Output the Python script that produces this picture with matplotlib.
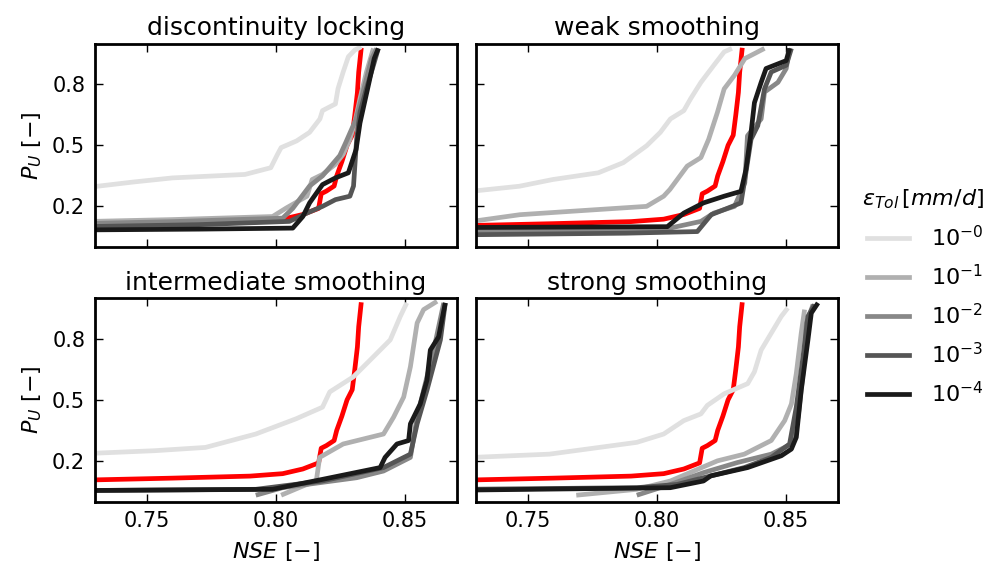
import matplotlib
matplotlib.use("Agg")
import matplotlib.pyplot as plt
from matplotlib.lines import Line2D

# ---------------------------------------------------------------------------
# Data: NSE vs. P_U curves for each smoothing scheme and tolerance
# ---------------------------------------------------------------------------
panel_titles = ["discontinuity locking", "weak smoothing",
                "intermediate smoothing", "strong smoothing"]
tol_labels = [r"$10^{-0}$", r"$10^{-1}$", r"$10^{-2}$", r"$10^{-3}$", r"$10^{-4}$"]
tol_colors = ["#e0e0e0", "#b0b0b0", "#888888", "#555555", "#1a1a1a"]

# reference curve (red), shared by all panels
ref_nse = [0.725, 0.76, 0.79, 0.8026, 0.8104, 0.8165, 0.8175, 0.8195, 0.8225,
           0.8235, 0.8255, 0.8275, 0.8295, 0.8305, 0.8315, 0.832, 0.833]
ref_pu = [0.105, 0.115, 0.125, 0.137, 0.160, 0.190, 0.262, 0.275, 0.300,
          0.350, 0.420, 0.500, 0.550, 0.650, 0.760, 0.860, 0.980]

# discontinuity locking
lock_nse_0 = [0.725, 0.745, 0.76, 0.788, 0.798, 0.8006, 0.802, 0.808, 0.813,
              0.817, 0.818, 0.823, 0.824, 0.826, 0.828, 0.8305, 0.833]
lock_pu_0 = [0.29, 0.32, 0.34, 0.357, 0.39, 0.456, 0.489, 0.522, 0.564,
             0.63, 0.671, 0.704, 0.779, 0.861, 0.936, 0.969, 0.985]
lock_nse_1 = [0.725, 0.76, 0.7987, 0.804, 0.812, 0.814, 0.818, 0.823, 0.826,
              0.8286, 0.8305, 0.8325, 0.835, 0.8377]
lock_pu_1 = [0.125, 0.135, 0.150, 0.192, 0.25, 0.332, 0.357, 0.407, 0.456,
             0.53, 0.613, 0.73, 0.86, 0.977]
lock_nse_2 = [0.725, 0.76, 0.8026, 0.8065, 0.813, 0.818, 0.8247, 0.827, 0.831,
              0.834, 0.837, 0.839]
lock_pu_2 = [0.115, 0.125, 0.142, 0.19, 0.30, 0.35, 0.45, 0.514, 0.63,
             0.778, 0.927, 0.977]
lock_nse_3 = [0.725, 0.77, 0.8052, 0.812, 0.818, 0.823, 0.8286, 0.83, 0.8312,
              0.8325, 0.835, 0.8377, 0.8396]
lock_pu_3 = [0.10, 0.11, 0.126, 0.167, 0.20, 0.233, 0.25, 0.30, 0.53,
             0.663, 0.78, 0.894, 0.977]
lock_nse_4 = [0.725, 0.77, 0.8065, 0.8104, 0.813, 0.818, 0.823, 0.828, 0.831,
              0.8325, 0.834, 0.836, 0.838, 0.8396]
lock_pu_4 = [0.084, 0.088, 0.093, 0.15, 0.217, 0.307, 0.34, 0.365, 0.48,
             0.61, 0.696, 0.81, 0.927, 0.977]

# weak smoothing
weak_nse_0 = [0.725, 0.7468, 0.7597, 0.7773, 0.787, 0.796, 0.8013, 0.8052,
              0.8104, 0.813, 0.817, 0.822, 0.826, 0.829]
weak_pu_0 = [0.27, 0.299, 0.332, 0.365, 0.415, 0.498, 0.564, 0.63,
             0.671, 0.729, 0.81, 0.894, 0.96, 0.977]
weak_nse_1 = [0.725, 0.747, 0.766, 0.796, 0.8026, 0.805, 0.8117, 0.817, 0.820,
              0.8234, 0.826, 0.83, 0.834, 0.8416]
weak_pu_1 = [0.12, 0.159, 0.175, 0.20, 0.25, 0.283, 0.398, 0.44, 0.53,
             0.663, 0.778, 0.845, 0.927, 0.977]
weak_nse_2 = [0.725, 0.788, 0.805, 0.817, 0.822, 0.83, 0.834, 0.835, 0.8403,
              0.8416, 0.8468, 0.85, 0.8513]
weak_pu_2 = [0.076, 0.085, 0.093, 0.126, 0.167, 0.20, 0.316, 0.547, 0.63,
             0.762, 0.81, 0.878, 0.977]
weak_nse_3 = [0.725, 0.788, 0.8156, 0.821, 0.8325, 0.8344, 0.8364, 0.839,
              0.8416, 0.8442, 0.85, 0.852]
weak_pu_3 = [0.06, 0.068, 0.076, 0.159, 0.217, 0.365, 0.53, 0.597,
             0.778, 0.861, 0.894, 0.977]
weak_nse_4 = [0.725, 0.804, 0.8104, 0.818, 0.826, 0.8325, 0.8344, 0.8364,
              0.8377, 0.8403, 0.8422, 0.85, 0.8513]
weak_pu_4 = [0.096, 0.10, 0.167, 0.217, 0.25, 0.274, 0.38, 0.564,
             0.71, 0.81, 0.878, 0.917, 0.977]

# intermediate smoothing
inter_nse_0 = [0.725, 0.7532, 0.7727, 0.7922, 0.8078, 0.818, 0.8208, 0.8299,
               0.8377, 0.8442, 0.8481, 0.8506]
inter_pu_0 = [0.235, 0.25, 0.266, 0.332, 0.407, 0.464, 0.539, 0.613,
              0.712, 0.795, 0.911, 0.977]
inter_nse_1 = [0.802, 0.8104, 0.8156, 0.8169, 0.826, 0.8416, 0.8455, 0.8494,
               0.852, 0.8546, 0.8571, 0.8623]
inter_pu_1 = [0.031, 0.076, 0.101, 0.217, 0.283, 0.332, 0.415, 0.514,
              0.663, 0.878, 0.944, 0.985]
inter_nse_2 = [0.7922, 0.8026, 0.8312, 0.8416, 0.852, 0.8546, 0.8571, 0.861,
               0.8649]
inter_pu_2 = [0.031, 0.068, 0.117, 0.15, 0.217, 0.415, 0.547, 0.745, 0.977]
inter_nse_3 = [0.725, 0.7922, 0.818, 0.8416, 0.852, 0.8546, 0.8584, 0.8636,
               0.8655]
inter_pu_3 = [0.054, 0.06, 0.101, 0.167, 0.233, 0.382, 0.547, 0.795, 0.977]
inter_nse_4 = [0.725, 0.7987, 0.818, 0.8403, 0.8422, 0.8468, 0.8513, 0.852,
               0.8558, 0.8584, 0.8597, 0.8629, 0.8655]
inter_pu_4 = [0.054, 0.06, 0.109, 0.167, 0.217, 0.283, 0.30, 0.382,
              0.48, 0.597, 0.745, 0.81, 0.977]

# strong smoothing
strong_nse_0 = [0.725, 0.7584, 0.7922, 0.8026, 0.8104, 0.817, 0.8195, 0.826,
                0.8351, 0.8377, 0.8403, 0.8442, 0.8481, 0.8506]
strong_pu_0 = [0.215, 0.233, 0.291, 0.332, 0.398, 0.431, 0.473, 0.53,
               0.58, 0.638, 0.745, 0.828, 0.911, 0.952]
strong_nse_1 = [0.7688, 0.7922, 0.8052, 0.8234, 0.8338, 0.8442, 0.8494, 0.852,
                0.8539, 0.8558, 0.8571]
strong_pu_1 = [0.031, 0.06, 0.101, 0.20, 0.233, 0.30, 0.398, 0.48,
               0.63, 0.828, 0.944]
strong_nse_2 = [0.7922, 0.8052, 0.818, 0.8312, 0.8442, 0.852, 0.8546, 0.8565,
                0.8578, 0.8604]
strong_pu_2 = [0.031, 0.084, 0.142, 0.192, 0.233, 0.283, 0.415, 0.63,
               0.878, 0.969]
strong_nse_3 = [0.725, 0.7922, 0.8078, 0.818, 0.8338, 0.8442, 0.8513, 0.8539,
                0.8565, 0.8584, 0.861]
strong_pu_3 = [0.06, 0.068, 0.084, 0.117, 0.167, 0.217, 0.283, 0.465,
               0.712, 0.911, 0.969]
strong_nse_4 = [0.725, 0.8052, 0.818, 0.8208, 0.8351, 0.8481, 0.852, 0.8539,
                0.8558, 0.8584, 0.8597, 0.8623]
strong_pu_4 = [0.056, 0.068, 0.101, 0.126, 0.167, 0.225, 0.258, 0.316,
               0.547, 0.795, 0.927, 0.977]

x_ticks = [0.75, 0.80, 0.85]
x_ticklabels = ["0.75", "0.80", "0.85"]
y_ticks = [0.2, 0.5, 0.8]
y_ticklabels = ["0.2", "0.5", "0.8"]

panels = [
    [(lock_nse_0, lock_pu_0), (lock_nse_1, lock_pu_1), (lock_nse_2, lock_pu_2),
     (lock_nse_3, lock_pu_3), (lock_nse_4, lock_pu_4)],
    [(weak_nse_0, weak_pu_0), (weak_nse_1, weak_pu_1), (weak_nse_2, weak_pu_2),
     (weak_nse_3, weak_pu_3), (weak_nse_4, weak_pu_4)],
    [(inter_nse_0, inter_pu_0), (inter_nse_1, inter_pu_1), (inter_nse_2, inter_pu_2),
     (inter_nse_3, inter_pu_3), (inter_nse_4, inter_pu_4)],
    [(strong_nse_0, strong_pu_0), (strong_nse_1, strong_pu_1), (strong_nse_2, strong_pu_2),
     (strong_nse_3, strong_pu_3), (strong_nse_4, strong_pu_4)],
]

# ---------------------------------------------------------------------------
# Figure
# ---------------------------------------------------------------------------
plt.rcParams["font.family"] = ["DejaVu Sans"]
plt.rcParams["mathtext.fontset"] = "dejavusans"

fig = plt.figure(figsize=(9.85, 5.71), dpi=100)

ax_w, ax_h = 0.3675, 0.356
lefts = [0.0964, 0.4832]
bottoms = [0.5674, 0.1217]

axes = []
for r in range(2):
    for c in range(2):
        axes.append(fig.add_axes([lefts[c], bottoms[r], ax_w, ax_h]))

lw = 3.4
for i, ax in enumerate(axes):
    ax.plot(ref_nse, ref_pu, color="red", lw=lw, solid_capstyle="butt")
    for (nse, pu), col in zip(panels[i], tol_colors):
        ax.plot(nse, pu, color=col, lw=lw, solid_capstyle="butt")

    ax.set_xlim(0.73, 0.87)
    ax.set_ylim(0.0, 1.0)
    ax.set_xticks(x_ticks)
    ax.set_yticks(y_ticks)
    ax.set_title(panel_titles[i], fontsize=18, pad=6)
    ax.tick_params(direction="in", top=True, right=True, length=6, width=1,
                   labelsize=15, pad=7)
    for sp in ax.spines.values():
        sp.set_linewidth(2.0)

    row, col = divmod(i, 2)
    if row == 1:
        ax.set_xticklabels(x_ticklabels)
        ax.set_xlabel(r"$NSE\ [-]$", fontsize=16, labelpad=6)
    else:
        ax.set_xticklabels([])
    if col == 0:
        ax.set_yticklabels(y_ticklabels)
        ax.set_ylabel(r"$P_U\ [-]$", fontsize=16, labelpad=6)
    else:
        ax.set_yticklabels([])

handles = [Line2D([], [], color=c, lw=lw) for c in tol_colors]
fig.legend(handles, tol_labels, title=r"$\varepsilon_{Tol}\,[mm/d]$",
           loc="center left", bbox_to_anchor=(0.866, 0.48), frameon=False,
           fontsize=16, title_fontsize=16, handlelength=1.9,
           handletextpad=1.0, labelspacing=0.62, borderaxespad=0.0,
           alignment="right")

fig.savefig("out.png", dpi=100)
